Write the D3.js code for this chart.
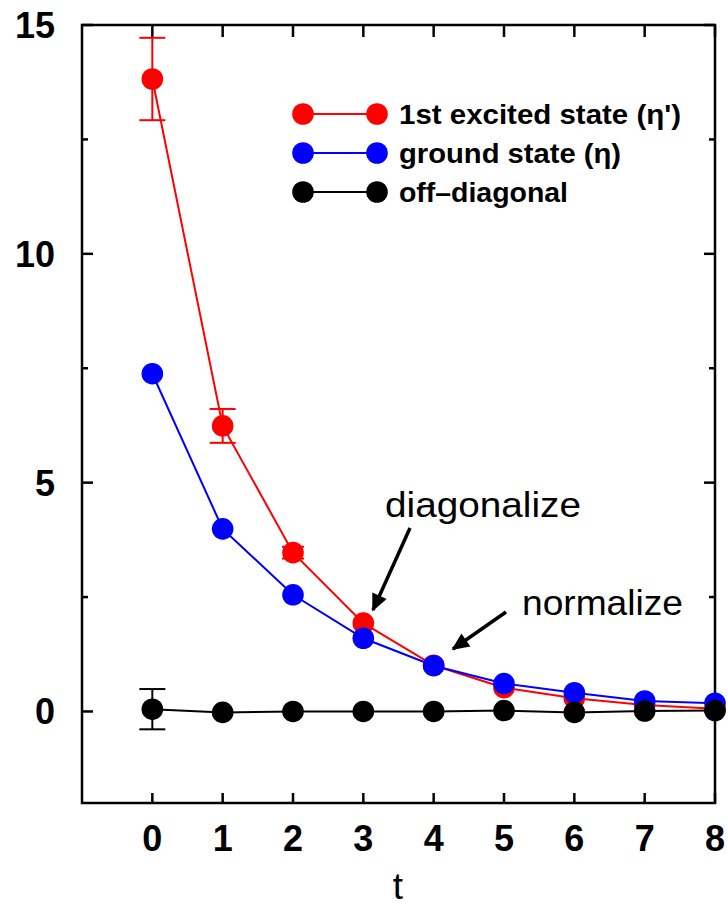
<!DOCTYPE html>
<html><head><meta charset="utf-8">
<script src="https://cdn.jsdelivr.net/npm/d3@7"></script>
<style>body{margin:0;background:#fff}svg{display:block}</style>
</head><body>
<script>
const tValues = [0,1,2,3,4,5,6,7,8];
const excited = [13.82, 6.24, 3.47, 1.93, 1.01, 0.52, 0.29, 0.14, 0.06];
const excitedErr = [0.9, 0.37, 0.13, 0.07, 0.04, 0.03, 0.03, 0.03, 0.03];
const ground = [7.38, 3.99, 2.55, 1.60, 1.00, 0.61, 0.41, 0.23, 0.18];
const groundErr = [0.05, 0.04, 0.03, 0.02, 0.02, 0.02, 0.02, 0.02, 0.02];
const offdiag = [0.05, -0.02, 0.0, 0.0, 0.0, 0.02, -0.02, 0.01, 0.02];
const offdiagErr = [0.44, 0.03, 0.02, 0.02, 0.02, 0.02, 0.02, 0.02, 0.02];
const xTicks = [0,1,2,3,4,5,6,7,8];
const yMajor = [0,5,10,15];
const yMinor = [2.5,7.5,12.5];
const legendLabels = ["1st excited state (\u03b7')", "ground state (\u03b7)", "off\u2013diagonal"];

const W=728,H=906;
const L=82,R=715,T=25,B=803;
const x=d3.scaleLinear().domain([-1,8]).range([L,R]);
const y=d3.scaleLinear().domain([-2,15]).range([B,T]);
const svg=d3.select("body").append("svg").attr("width",W).attr("height",H);
const font="'Liberation Sans', Arial, sans-serif";

// ticks
const g=svg.append("g").attr("stroke","#000").attr("stroke-width",2.5);
xTicks.forEach(v=>{
  g.append("line").attr("x1",x(v)).attr("x2",x(v)).attr("y1",B).attr("y2",B-10);
  g.append("line").attr("x1",x(v)).attr("x2",x(v)).attr("y1",T).attr("y2",T+12);
});
yMajor.forEach(v=>{
  g.append("line").attr("x1",L).attr("x2",L+11).attr("y1",y(v)).attr("y2",y(v));
  g.append("line").attr("x1",R).attr("x2",R-11).attr("y1",y(v)).attr("y2",y(v));
});
yMinor.forEach(v=>{
  g.append("line").attr("x1",L).attr("x2",L+6).attr("y1",y(v)).attr("y2",y(v));
  g.append("line").attr("x1",R).attr("x2",R-6).attr("y1",y(v)).attr("y2",y(v));
});
svg.append("rect").attr("x",L).attr("y",T).attr("width",R-L).attr("height",B-T)
  .attr("fill","none").attr("stroke","#000").attr("stroke-width",2.5);

// tick labels
svg.append("g").selectAll("text").data(xTicks).join("text")
  .attr("x",d=>x(d)).attr("y",851).attr("text-anchor","middle")
  .attr("font-family",font).attr("font-weight","bold").attr("font-size",36).text(d=>d);
svg.append("g").selectAll("text").data(yMajor).join("text")
  .attr("x",55).attr("y",d=>y(d)+13).attr("text-anchor","end")
  .attr("font-family",font).attr("font-weight","bold").attr("font-size",36).text(d=>d);
svg.append("text").attr("x",398).attr("y",899).attr("text-anchor","middle")
  .attr("font-family",font).attr("font-size",37).text("t");

// series
const series=[
  {v:excited,e:excitedErr,c:"#ff0000"},
  {v:ground,e:groundErr,c:"#0000ff"},
  {v:offdiag,e:offdiagErr,c:"#000000"}
];
const line=d3.line().x((d,i)=>x(tValues[i])).y(d=>y(d));
series.forEach(s=>{
  const sg=svg.append("g");
  sg.append("path").attr("d",line(s.v)).attr("fill","none").attr("stroke",s.c).attr("stroke-width",2);
  s.v.forEach((v,i)=>{
    const cx=x(tValues[i]);
    if(s.e[i]*45.8>12){
      sg.append("line").attr("x1",cx).attr("x2",cx).attr("y1",y(v+s.e[i])).attr("y2",y(v-s.e[i])).attr("stroke",s.c).attr("stroke-width",2);
      [v+s.e[i],v-s.e[i]].forEach(w=>sg.append("line").attr("x1",cx-13).attr("x2",cx+13).attr("y1",y(w)).attr("y2",y(w)).attr("stroke",s.c).attr("stroke-width",2));
    } else if(s.e[i]*45.8>4){
      [v+s.e[i],v-s.e[i]].forEach(w=>sg.append("line").attr("x1",cx-11).attr("x2",cx+11).attr("y1",y(w)).attr("y2",y(w)).attr("stroke",s.c).attr("stroke-width",2));
    }
    sg.append("circle").attr("cx",cx).attr("cy",y(v)).attr("r",10.8).attr("fill",s.c);
  });
});

// legend
const legY=[114,153,192];
const legW=[282,222,169];
series.forEach((s,i)=>{
  svg.append("line").attr("x1",303).attr("x2",377).attr("y1",legY[i]).attr("y2",legY[i]).attr("stroke",s.c).attr("stroke-width",2);
  svg.append("circle").attr("cx",303).attr("cy",legY[i]).attr("r",10.8).attr("fill",s.c);
  svg.append("circle").attr("cx",377).attr("cy",legY[i]).attr("r",10.8).attr("fill",s.c);
  svg.append("text").attr("x",399).attr("y",legY[i]+10).attr("font-family",font).attr("font-weight","bold")
    .attr("font-size",28).attr("textLength",legW[i]).attr("lengthAdjust","spacingAndGlyphs").text(legendLabels[i]);
});

// annotations
svg.append("text").attr("x",385).attr("y",517).attr("font-family",font).attr("font-size",35)
  .attr("textLength",196).attr("lengthAdjust","spacingAndGlyphs").text("diagonalize");
svg.append("text").attr("x",522).attr("y",615).attr("font-family",font).attr("font-size",35)
  .attr("textLength",161).attr("lengthAdjust","spacingAndGlyphs").text("normalize");
const defs=svg.append("defs");
defs.append("marker").attr("id","ah").attr("viewBox","0 0 10 10").attr("refX",9).attr("refY",5)
  .attr("markerWidth",5.5).attr("markerHeight",5).attr("orient","auto").attr("markerUnits","strokeWidth")
  .append("path").attr("d","M0,0.5 L10,5 L0,9.5 Z").attr("fill","#000");
svg.append("line").attr("x1",410).attr("y1",528).attr("x2",373).attr("y2",610)
  .attr("stroke","#000").attr("stroke-width",3.5).attr("marker-end","url(#ah)");
svg.append("line").attr("x1",506).attr("y1",612).attr("x2",453).attr("y2",649)
  .attr("stroke","#000").attr("stroke-width",3.5).attr("marker-end","url(#ah)");
</script>
</body></html>
